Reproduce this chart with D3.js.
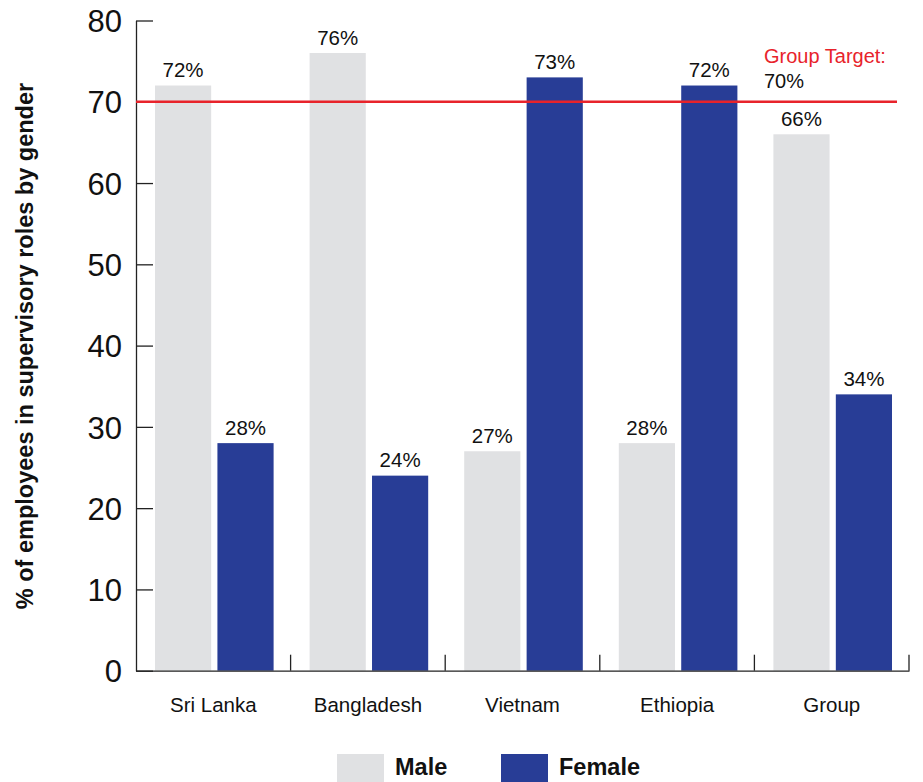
<!DOCTYPE html>
<html>
<head>
<meta charset="utf-8">
<script src="https://cdn.jsdelivr.net/npm/d3@7/dist/d3.min.js"></script>
<style>
  html, body { margin: 0; padding: 0; background: #fff; }
  svg { display: block; font-family: "Liberation Sans", Arial, Helvetica, sans-serif; }
</style>
</head>
<body>
<svg id="chart" width="923" height="782"></svg>
<script>
// Share of supervisory roles held by each gender, per country and for the group
const categories = ["Sri Lanka", "Bangladesh", "Vietnam", "Ethiopia", "Group"];
const genders = ["Male", "Female"];
const maleValues = [72, 76, 27, 28, 66];
const femaleValues = [28, 24, 73, 72, 34];
const yTicks = [0, 10, 20, 30, 40, 50, 60, 70, 80];
const targetValue = 70;
const targetLabel = "Group Target:";
const yTitle = "% of employees in supervisory roles by gender";

const colors = { Male: "#e0e1e3", Female: "#283d96" };
const targetColor = "#e8232b";

const svg = d3.select("#chart");

const plotLeft = 136, plotRight = 909, plotTop = 20.5, plotBottom = 670.7;

const x = d3.scaleBand().domain(categories).range([plotLeft, plotRight]).paddingInner(0).paddingOuter(0);
const xInner = d3.scaleBand().domain(genders).range([19, x.bandwidth() - 17]).paddingInner(0.1);
const y = d3.scaleLinear().domain([0, 80]).range([plotBottom, plotTop]);

const rows = categories.map((c, i) => ({ category: c, Male: maleValues[i], Female: femaleValues[i] }));

// Bars
const groups = svg.append("g").selectAll("g")
  .data(rows).join("g")
  .attr("transform", d => `translate(${x(d.category)},0)`);

groups.selectAll("rect")
  .data(d => genders.map(g => ({ gender: g, value: d[g] })))
  .join("rect")
  .attr("x", d => xInner(d.gender))
  .attr("width", xInner.bandwidth())
  .attr("y", d => y(d.value))
  .attr("height", d => y(0) - y(d.value))
  .attr("fill", d => colors[d.gender]);

// Value labels above each bar
groups.selectAll("text.value")
  .data(d => genders.map(g => ({ gender: g, value: d[g] })))
  .join("text")
  .attr("class", "value")
  .attr("x", d => xInner(d.gender) + xInner.bandwidth() / 2)
  .attr("y", d => y(d.value) - 8.5)
  .attr("text-anchor", "middle")
  .attr("font-size", 20.5)
  .attr("fill", "#111")
  .text(d => d.value + "%");

// Y axis with inward ticks
const yAxis = d3.axisLeft(y).tickValues(yTicks).tickSizeInner(-17).tickSizeOuter(0).tickPadding(14);
const yg = svg.append("g").attr("transform", `translate(${plotLeft},0)`).call(yAxis);
yg.select(".domain").attr("stroke", "#222").attr("stroke-width", 1.3);
yg.selectAll(".tick line").attr("stroke", "#222").attr("stroke-width", 1.3);
yg.selectAll(".tick text")
  .attr("font-family", "'Liberation Sans', Arial, sans-serif")
  .attr("font-size", 31)
  .attr("fill", "#111")
  .attr("dy", "0.36em");

// X axis: baseline, category labels and upward separator ticks
const xAxis = d3.axisBottom(x).tickSize(0).tickPadding(27);
const xg = svg.append("g").attr("transform", `translate(0,${plotBottom})`).call(xAxis);
xg.select(".domain").attr("stroke", "#222").attr("stroke-width", 1.3);
xg.selectAll(".tick text")
  .attr("font-family", "'Liberation Sans', Arial, sans-serif")
  .attr("font-size", 20.5)
  .attr("fill", "#111");

xg.selectAll("line.sep")
  .data(categories)
  .join("line")
  .attr("class", "sep")
  .attr("x1", d => x(d) + x.step())
  .attr("x2", d => x(d) + x.step())
  .attr("y1", 0)
  .attr("y2", -16)
  .attr("stroke", "#222")
  .attr("stroke-width", 1.3);

// Group target line and its label
svg.append("line")
  .attr("x1", plotLeft).attr("x2", 897)
  .attr("y1", y(targetValue)).attr("y2", y(targetValue))
  .attr("stroke", targetColor).attr("stroke-width", 2.6);

svg.append("text")
  .attr("x", 764).attr("y", 63)
  .attr("font-size", 20)
  .attr("fill", targetColor)
  .text(targetLabel);
svg.append("text")
  .attr("x", 764).attr("y", 88)
  .attr("font-size", 20)
  .attr("fill", "#111")
  .text(targetValue + "%");

// Y axis title
svg.append("text")
  .attr("transform", `translate(33,346) rotate(-90)`)
  .attr("text-anchor", "middle")
  .attr("font-size", 23.5)
  .attr("font-weight", "bold")
  .attr("fill", "#111")
  .text(yTitle);

// Legend
const legendX = { Male: 337, Female: 501 };
const legend = svg.append("g").selectAll("g")
  .data(genders).join("g")
  .attr("transform", g => `translate(${legendX[g]},754)`);
legend.append("rect")
  .attr("width", 47).attr("height", 30)
  .attr("fill", g => colors[g]);
legend.append("text")
  .attr("x", 58).attr("y", 21)
  .attr("font-size", 23.5)
  .attr("font-weight", "bold")
  .attr("fill", "#111")
  .text(g => g);
</script>
</body>
</html>
